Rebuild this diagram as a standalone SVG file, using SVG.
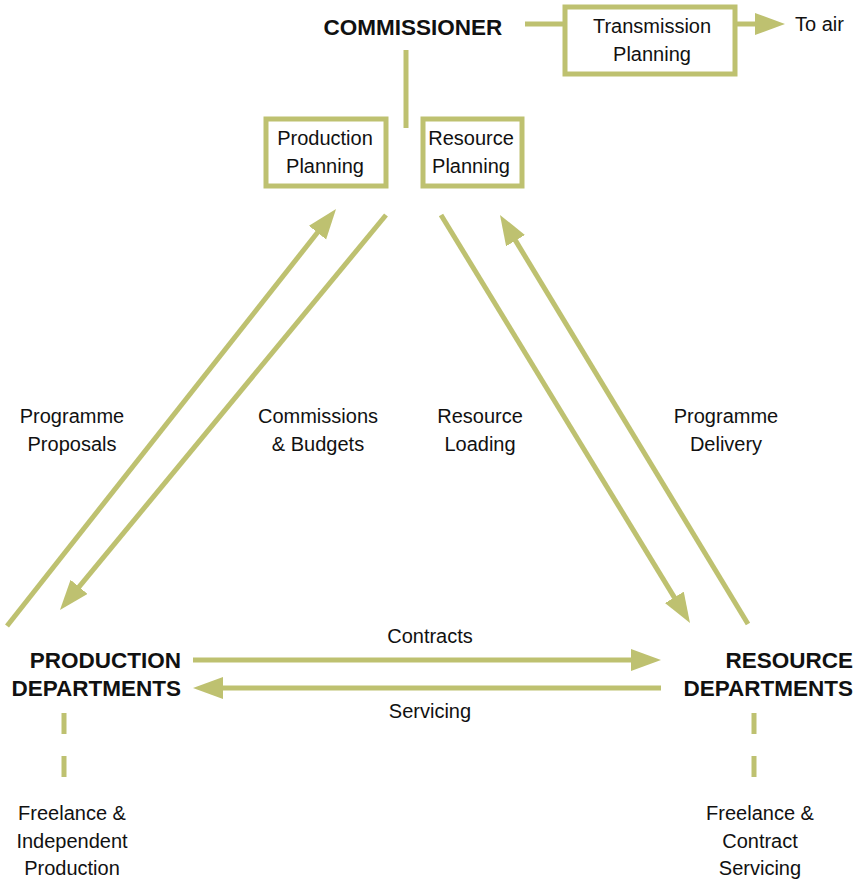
<svg xmlns="http://www.w3.org/2000/svg" width="858" height="879" viewBox="0 0 858 879">
<style>
.ln{stroke:#bec170;stroke-width:5;fill:none}
.bx{stroke:#bec170;stroke-width:5;fill:#fff}
.t{font-family:"Liberation Sans",Arial,sans-serif;font-size:20px;fill:#111;text-anchor:middle}
.s{text-anchor:start}
.b{font-family:"Liberation Sans",Arial,sans-serif;font-size:22.5px;font-weight:bold;fill:#111}
.m{text-anchor:middle}
.e{text-anchor:end}
</style>
<defs>
<marker id="ah" markerUnits="userSpaceOnUse" markerWidth="32" markerHeight="24" refX="2" refY="11" orient="auto">
<path d="M0,0 L30,11 L0,22 Z" fill="#bec170"/>
</marker>
</defs>
<rect width="858" height="879" fill="#fff"/>
<g id="connectors">
<line class="ln" x1="525" y1="24" x2="565" y2="24"/>
<line class="ln" x1="735" y1="24" x2="757" y2="24" marker-end="url(#ah)"/>
<line class="ln" x1="406" y1="50" x2="406" y2="128"/>
<line class="ln" x1="7" y1="626" x2="318.7" y2="231" marker-end="url(#ah)"/>
<line class="ln" x1="386" y1="215" x2="77.8" y2="588.4" marker-end="url(#ah)"/>
<line class="ln" x1="441" y1="215" x2="675.4" y2="599.1" marker-end="url(#ah)"/>
<line class="ln" x1="748" y1="624" x2="514.5" y2="238.9" marker-end="url(#ah)"/>
<line class="ln" x1="193" y1="660" x2="633" y2="660" marker-end="url(#ah)"/>
<line class="ln" x1="661" y1="688" x2="221" y2="688" marker-end="url(#ah)"/>
<line class="ln" x1="64" y1="713" x2="64" y2="777" stroke-dasharray="21 22"/>
<line class="ln" x1="754" y1="713" x2="754" y2="777" stroke-dasharray="21 22"/>
</g>
<g id="commissioner"><text class="b m" x="413" y="35">COMMISSIONER</text></g>
<g id="transmission-planning">
<rect class="bx" x="565" y="7" width="170" height="67"/>
<text class="t" x="652" y="33">Transmission</text>
<text class="t" x="652" y="61">Planning</text>
</g>
<g id="to-air"><text class="t s" x="795" y="31">To air</text></g>
<g id="production-planning">
<rect class="bx" x="266" y="119" width="120" height="67"/>
<text class="t" x="325" y="145">Production</text>
<text class="t" x="325" y="173">Planning</text>
</g>
<g id="resource-planning">
<rect class="bx" x="423" y="119" width="99" height="67"/>
<text class="t" x="471" y="145">Resource</text>
<text class="t" x="471" y="173">Planning</text>
</g>
<g id="labels">
<text class="t" x="72" y="423">Programme</text>
<text class="t" x="72" y="451">Proposals</text>
<text class="t" x="318" y="423">Commissions</text>
<text class="t" x="318" y="451">&amp; Budgets</text>
<text class="t" x="480" y="423">Resource</text>
<text class="t" x="480" y="451">Loading</text>
<text class="t" x="726" y="423">Programme</text>
<text class="t" x="726" y="451">Delivery</text>
<text class="t" x="430" y="643">Contracts</text>
<text class="t" x="430" y="718">Servicing</text>
</g>
<g id="production-departments">
<text class="b e" x="181" y="668">PRODUCTION</text>
<text class="b e" x="181" y="696">DEPARTMENTS</text>
</g>
<g id="resource-departments">
<text class="b e" x="853" y="668">RESOURCE</text>
<text class="b e" x="853" y="696">DEPARTMENTS</text>
</g>
<g id="freelance-independent">
<text class="t" x="72" y="820">Freelance &amp;</text>
<text class="t" x="72" y="848">Independent</text>
<text class="t" x="72" y="875">Production</text>
</g>
<g id="freelance-contract">
<text class="t" x="760" y="820">Freelance &amp;</text>
<text class="t" x="760" y="848">Contract</text>
<text class="t" x="760" y="875">Servicing</text>
</g>
</svg>
